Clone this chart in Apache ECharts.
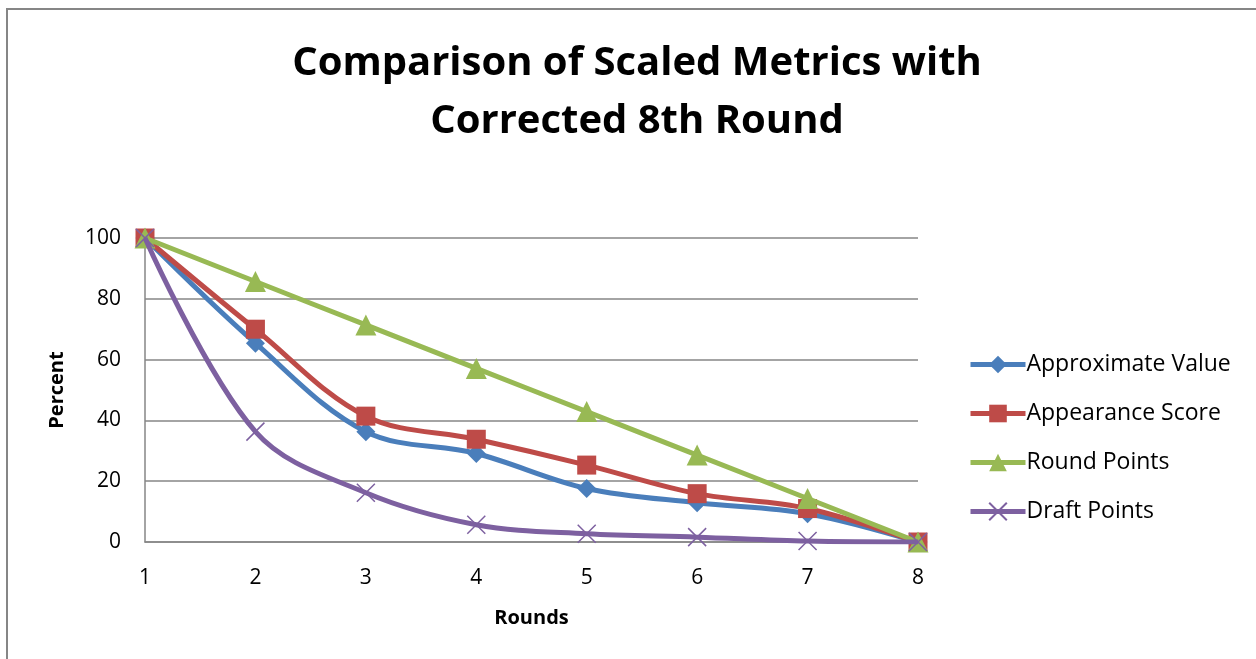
<!DOCTYPE html>
<html>
<head>
<meta charset="utf-8">
<script src="https://cdn.jsdelivr.net/npm/echarts@6/dist/echarts.min.js"></script>
<style>
html,body{margin:0;padding:0;background:#fff;}
#chart{width:1256px;height:659px;}
</style>
</head>
<body>
<div id="chart"></div>
<script>
var rounds = ['1', '2', '3', '4', '5', '6', '7', '8'];
var approximateValue = [100, 65.4, 36.3, 29.1, 17.6, 12.9, 9.3, 0];
var appearanceScore = [100, 70.0, 41.4, 33.8, 25.3, 15.9, 11.0, 0];
var roundPoints = [100, 85.7, 71.4, 57.1, 42.9, 28.6, 14.3, 0];
var draftPoints = [100, 36.3, 16.2, 5.7, 2.7, 1.6, 0.3, 0];
var seriesNames = ['Approximate Value', 'Appearance Score', 'Round Points', 'Draft Points'];
var yTicks = [0, 20, 40, 60, 80, 100];

var FONT = '"Open Sans", "Liberation Sans", sans-serif';
var colors = ['#4A7EBB', '#BE4B48', '#98B954', '#7D60A0'];
var symbols = ['diamond', 'rect', 'triangle', 'path://M0,0 L10,10 M10,0 L0,10'];
var sizes = [19, 19, 21, 18];
var dataSets = [approximateValue, appearanceScore, roundPoints, draftPoints];

var chart = echarts.init(document.getElementById('chart'), null, {renderer: 'canvas'});

var series = dataSets.map(function (d, i) {
  var s = {
    name: seriesNames[i],
    type: 'line',
    data: d,
    smooth: 0.35,
    symbol: symbols[i],
    symbolSize: sizes[i],
    showAllSymbol: true,
    lineStyle: {color: colors[i], width: 5},
    itemStyle: {color: colors[i]},
    z: 2 + i
  };
  if (i === 3) {
    s.itemStyle = {color: 'none', borderColor: colors[i], borderWidth: 1.5};
  }
  return s;
});

chart.setOption({
  animation: false,
  backgroundColor: '#fff',
  color: colors,
  graphic: [{
    type: 'rect',
    shape: {x: 7, y: 9, width: 1400, height: 800},
    style: {fill: 'none', stroke: '#868686', lineWidth: 2},
    silent: true
  }],
  title: {
    text: 'Comparison of Scaled Metrics with\nCorrected 8th Round',
    left: 632,
    textAlign: 'center',
    top: 30,
    textStyle: {fontFamily: FONT, fontWeight: 'bold', fontSize: 40, lineHeight: 58, color: '#000'}
  },
  legend: {
    orient: 'vertical',
    left: 963,
    top: 348,
    itemWidth: 55,
    itemHeight: 22,
    itemGap: 26,
    lineStyle: {width: 5},
    data: seriesNames,
    textStyle: {fontFamily: FONT, fontSize: 23, color: '#000', padding: [0, 0, 0, -4]}
  },
  grid: {left: 145, right: 338, top: 238, bottom: 117, containLabel: false},
  xAxis: {
    type: 'category',
    data: rounds,
    boundaryGap: false,
    name: 'Rounds',
    nameLocation: 'middle',
    nameGap: 66,
    nameTextStyle: {fontFamily: FONT, fontWeight: 'bold', fontSize: 20, color: '#000'},
    axisLine: {lineStyle: {color: '#868686', width: 1.5}},
    axisTick: {show: false},
    axisLabel: {fontFamily: FONT, fontSize: 21, color: '#000', margin: 26}
  },
  yAxis: {
    type: 'value',
    min: 0,
    max: 100,
    interval: 20,
    name: 'Percent',
    nameLocation: 'middle',
    nameRotate: 90,
    nameGap: 78,
    nameTextStyle: {fontFamily: FONT, fontWeight: 'bold', fontSize: 20, color: '#000'},
    axisLine: {show: true, lineStyle: {color: '#868686', width: 1.5}},
    axisTick: {show: false},
    splitLine: {lineStyle: {color: '#868686', width: 1.5}},
    axisLabel: {fontFamily: FONT, fontSize: 21, color: '#000', margin: 24,
      formatter: function (v) { return yTicks.indexOf(v) >= 0 ? String(v) : ''; }}
  },
  series: series
});
</script>
</body>
</html>
